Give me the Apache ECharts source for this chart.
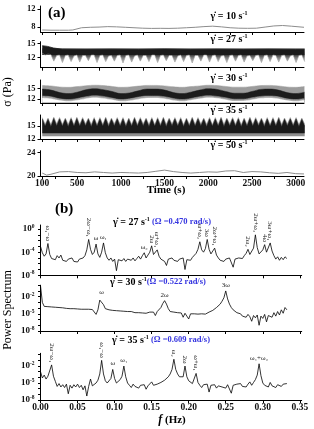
<!DOCTYPE html>
<html><head><meta charset="utf-8">
<script src="https://cdn.jsdelivr.net/npm/echarts@6.0.0/dist/echarts.min.js"></script>
<style>html,body{margin:0;padding:0;background:#fff}#c{width:314px;height:429px}</style>
</head><body><div id="c"></div>
<script>
// ================= DATA =================
// Panel (a): time axis
const timeLabels = [100, 500, 1000, 1500, 2000, 2500, 3000];
const timeTicks = [100, 250, 500, 750, 1000, 1250, 1500, 1750, 2000, 2250, 2500, 2750, 3000];

// shear rate 10 s^-1 (smooth record)
const t10 = [100,200,300,400,450,550,650,750,850,950,1050,1150,1250,1350,1450,1550,1650,1750,1850,1950,2050,2150,2250,2350,2450,2550,2650,2750,2850,2950,3095];
const s10 = [7.35,7.3,7.3,7.3,7.35,7.85,7.95,8.0,8.1,8.05,7.95,7.85,7.75,7.7,7.72,7.7,7.75,7.85,7.95,8.1,8.2,8.05,7.85,7.75,7.72,7.75,8.0,8.25,8.35,8.2,7.95];

// shear rate 50 s^-1 (smooth record)
const t50 = [100,150,200,300,400,500,600,700,800,900,1000,1100,1200,1300,1400,1500,1600,1700,1800,1900,2000,2100,2200,2300,2400,2500,2600,2700,2800,2900,3000,3095];
const s50 = [20.5,20.15,20.3,20.7,20.75,20.6,20.55,20.7,20.6,20.5,20.6,20.55,20.5,20.6,20.8,21.0,20.75,20.6,20.5,20.6,20.7,20.65,20.85,20.9,20.6,20.75,20.7,20.55,20.45,20.6,20.4,20.35];

// dense records are read as envelopes sampled every tStep seconds from tStart
const tStart = 100, tStep = 33;
// shear rate 27: lower envelope (downward spikes) and upper edge of dark core
const low27 = [12.9,12.5,12.7,12.6,
 11.2,12.4,12.5, 10.9,12.4,12.5, 11.1,12.3,12.5, 11.0,12.4,12.4, 11.3,12.5,12.5,
 10.9,12.4,12.5, 11.1,12.3,12.4, 11.2,12.4,12.5, 10.8,12.4,12.5, 11.0,12.3,12.5,
 11.2,12.4,12.4, 11.1,12.5,12.5, 10.9,12.4,12.5, 11.3,12.4,12.4, 11.0,12.3,12.5,
 11.1,12.4,12.5, 10.8,12.4,12.4, 11.2,12.5,12.5, 11.0,12.4,12.5, 11.1,12.3,12.4,
 10.9,12.4,12.5, 11.2,12.4,12.5, 11.0,12.3,12.4, 11.3,12.4,12.5, 10.9,12.4,12.5,
 11.1,12.5,12.4, 11.0,12.4,12.5, 11.2,12.3,12.5, 10.9,12.4,12.5, 11.1];
const upper27 = 13.95, coreBase27 = 12.5;
const core27T = [100,160,230,330,600,900,1200,1500,1800,2100,2400,2700,3000,3100];
const core27 = [14.5,14.35,14.0,13.75,13.7,13.75,13.7,13.8,13.7,13.75,13.7,13.75,13.7,13.7];

// shear rate 30: band edges every 100 s
const t30 = [100,200,300,400,500,600,700,800,900,1000,1100,1200,1300,1400,1500,1600,1700,1800,1900,2000,2100,2200,2300,2400,2500,2600,2700,2800,2900,3000,3100];
const gLow30 = [12.35,12.1,11.6,11.4,11.7,12.15,12.4,12.2,11.8,11.4,11.55,12.0,12.3,12.35,12.1,11.65,11.4,11.7,12.1,12.4,12.25,11.85,11.45,11.5,11.85,12.25,12.35,12.1,11.6,11.4,11.7];
const gUp30 = [15.95,15.8,15.5,15.4,15.6,15.85,16.0,15.9,15.65,15.4,15.5,15.75,15.95,15.95,15.8,15.55,15.4,15.6,15.8,16.0,15.9,15.65,15.45,15.45,15.65,15.9,15.95,15.8,15.5,15.4,15.6];
const cLow30 = [12.9,12.7,12.1,11.9,12.2,12.7,13.0,12.8,12.3,11.9,12.1,12.6,12.9,12.9,12.7,12.2,11.9,12.2,12.7,13.0,12.8,12.4,12.0,12.0,12.4,12.8,12.9,12.7,12.1,11.9,12.2];
const cUp30 = [14.9,14.6,13.9,13.6,14.0,14.7,15.0,14.7,14.2,13.6,13.8,14.4,14.9,14.9,14.6,13.9,13.6,14.0,14.6,15.0,14.8,14.2,13.7,13.7,14.2,14.8,14.9,14.6,13.9,13.6,14.0];
const fillBase30 = 11.05;

// shear rate 35: upper envelope (tips / valleys) of grey band and of dark core
const up35 = [16.9,15.4,16.8,15.3,17.0,15.5,16.9,15.4,16.8,15.4,16.9,15.3,17.0,15.4,16.9,15.5,16.8,15.4,16.9,15.3,
 16.9,15.4,17.0,15.4,16.8,15.5,16.9,15.4,16.9,15.3,16.8,15.4,17.0,15.4,16.9,15.5,16.8,15.4,16.9,15.3,
 16.9,15.4,17.0,15.4,16.8,15.5,16.9,15.4,16.9,15.3,16.8,15.4,17.0,15.4,16.9,15.5,16.8,15.4,16.9,15.3,
 16.9,15.4,17.0,15.4,16.8,15.5,16.9,15.4,16.9,15.3,16.8,15.4,17.0,15.4,16.9,15.5,16.8,15.4,16.9,15.3,
 16.9,15.4,17.0,15.4,16.8,15.5,16.9,15.4,16.9,15.3,16.8,15.4];
const core35 = [16.6,14.9,16.5,14.8,16.7,15.0,16.6,14.9,16.5,14.8,16.6,14.9,16.7,14.9,16.6,15.0,16.5,14.8,16.6,14.9,
 16.6,14.9,16.7,14.8,16.5,15.0,16.6,14.9,16.6,14.8,16.5,14.9,16.7,14.9,16.6,15.0,16.5,14.8,16.6,14.9,
 16.6,14.9,16.7,14.8,16.5,15.0,16.6,14.9,16.6,14.8,16.5,14.9,16.7,14.9,16.6,15.0,16.5,14.8,16.6,14.9,
 16.6,14.9,16.7,14.8,16.5,15.0,16.6,14.9,16.6,14.8,16.5,14.9,16.7,14.9,16.6,15.0,16.5,14.8,16.6,14.9,
 16.6,14.9,16.7,14.8,16.5,15.0,16.6,14.9,16.6,14.8,16.5,14.9];
const base35Grey = 12.65, base35Core = 13.3;

// Panel (b): power spectra, log10 values every fStep Hz from 0
const fLabels = [0, 0.05, 0.1, 0.15, 0.2, 0.25, 0.3, 0.35];
const fStep = 0.0025;
const ps27 = [-3.0,-4.1,-4.7,-4.3,-2.5,-4.4,-5.1,-4.8,-5.3,-4.6,-5.0,-4.5,-5.4,-5.1,-5.6,-5.2,-5.5,-5.0,-5.6,-5.3,
 -5.7,-5.2,-5.5,-5.0,-4.6,-3.6,-1.8,-3.5,-4.4,-4.0,-2.6,-4.3,-4.9,-4.0,-2.4,-4.1,-5.0,-5.4,-5.0,-5.6,
 -5.2,-7.2,-5.3,-5.0,-5.5,-5.1,-5.6,-5.2,-4.9,-5.4,-5.0,-5.5,-5.1,-4.7,-5.2,-4.6,-4.1,-5.0,-4.5,-4.0,
 -2.9,-4.4,-4.6,-3.6,-4.7,-5.2,-5.0,-5.6,-6.3,-5.2,-5.5,-5.0,-5.4,-5.1,-5.6,-5.2,-5.5,-5.0,-7.0,-5.3,
 -5.0,-5.4,-4.9,-4.6,-4.2,-3.5,-2.2,-3.6,-4.0,-3.4,-1.8,-3.5,-4.3,-4.1,-3.3,-4.5,-5.0,-5.4,-5.1,-5.6,
 -5.2,-5.5,-5.0,-5.3,-6.6,-5.2,-5.5,-5.0,-4.7,-5.1,-4.6,-4.2,-3.5,-4.4,-4.2,-3.3,-1.0,-3.2,-4.3,-4.0,
 -3.6,-2.7,-4.0,-3.9,-2.4,-3.8,-4.6,-5.2,-4.8,-5.4,-4.9,-5.3,-4.8,-5.1];
const ps30 = [-0.1,-3.0,-3.7,-3.8,-3.75,-3.85,-3.8,-3.9,-3.85,-3.95,-3.9,-4.0,-3.95,-4.0,-4.05,-3.95,-4.1,-4.0,-4.1,-4.05,
 -4.15,-4.1,-4.2,-4.15,-4.2,-4.3,-4.2,-4.3,-4.25,-4.4,-5.1,-4.3,-2.6,-2.3,-3.4,-4.1,-4.4,-4.3,-4.5,-4.4,
 -4.55,-4.45,-4.6,-4.5,-4.65,-4.55,-4.7,-4.6,-4.75,-4.6,-4.7,-4.8,-4.65,-4.8,-4.7,-4.85,-4.75,-4.9,-4.8,-4.7,
 -4.85,-4.7,-5.3,-4.6,-4.3,-3.9,-3.2,-2.7,-3.3,-4.1,-4.6,-4.8,-4.7,-4.9,-4.8,-5.0,-4.85,-5.6,-4.9,-5.1,
 -5.9,-5.0,-5.15,-5.0,-5.2,-5.05,-5.1,-5.0,-4.9,-5.05,-4.85,-4.7,-4.6,-4.4,-4.1,-3.9,-3.6,-3.3,-2.8,-2.2,
 -1.0,-2.4,-3.3,-3.9,-4.3,-4.6,-4.8,-5.1,-5.0,-5.4,-5.2,-5.6,-5.1,-5.5,-6.3,-5.3,-5.7,-5.2,-7.0,-5.4,
 -5.8,-5.1,-6.4,-5.3,-5.0,-5.6,-4.8,-5.4,-4.6,-5.2,-4.3,-4.9,-3.9,-4.3];
const ps35 = [-3.0,-4.1,-3.6,-4.3,-3.8,-3.5,-1.8,-3.8,-4.7,-5.6,-5.1,-5.7,-5.3,-5.8,-5.2,-6.9,-5.4,-5.9,-5.3,-5.7,
 -5.2,-5.8,-5.4,-6.2,-5.5,-7.3,-5.6,-4.3,-5.5,-5.2,-5.0,-4.5,-3.4,-1.0,-3.4,-4.6,-5.0,-4.7,-4.2,-2.6,
 -4.2,-5.0,-4.9,-4.4,-3.8,-2.0,-3.9,-5.0,-5.4,-5.8,-5.2,-5.6,-5.3,-5.9,-5.4,-5.7,-5.3,-6.1,-5.5,-5.2,
 -4.8,-5.4,-5.6,-5.2,-5.1,-4.9,-4.7,-4.5,-4.3,-3.9,-3.4,-2.6,-0.8,-2.6,-3.4,-3.9,-4.2,-3.9,-2.0,-3.9,
 -4.6,-4.9,-5.1,-4.8,-3.3,-4.9,-5.4,-5.8,-5.3,-5.6,-5.2,-6.6,-5.4,-5.7,-5.3,-5.9,-5.5,-5.2,-5.7,-5.4,
 -5.9,-5.3,-5.6,-6.8,-5.4,-5.7,-5.2,-5.5,-5.1,-5.6,-5.3,-5.7,-5.2,-4.8,-5.4,-4.9,-4.4,-3.6,-1.6,-3.7,
 -5.0,-5.4,-5.1,-5.7,-4.9,-5.5,-5.2,-5.8,-5.3,-5.0,-5.6,-5.2,-5.5,-5.1];

// peak annotations: [index into spectrum, text, rotated]
const ann27 = [[4,'ω₁−ω',1],[26,'2ω−ω₁',1],[30,'ω',0],[34,'ω₁',0],[56,'ω₂',0],[60,'2ω',1],[63,'ω+ω₁',1],
 [86,'ω+ω₂',1],[90,'3ω',1],[94,'2ω+ω₁',1],[112,'2ω₂',1],[116,'2ω+ω₂',1],[121,'4ω',1],[124,'3ω+ω₁',1]];
const ann30 = [[33,'ω',0],[67,'2ω',0],[100,'3ω',0]];
const ann35 = [[6,'2ω−ω₁',1],[33,'ω₁−ω',1],[39,'ω',0],[45,'ω₁',0],[72,'ω₂',1],[78,'2ω',1],[84,'ω+ω₁',1],[118,'ω₁+ω₂',0]];

const rateA = ['10', '27', '30', '35', '50'];
const rateB = ['27', '30', '35'];
const omegaB = [' (Ω =0.470 rad/s)', '(Ω =0.522 rad/s)', ' (Ω =0.609 rad/s)'];

// ================= CHART =================
const SERIF = '"Liberation Serif","DejaVu Serif",serif';
const chart = echarts.init(document.getElementById('c'), null, {renderer: 'canvas'});

const gridsA = [[6, 26], [41.7, 26], [80, 23], [115, 24], [150.7, 25.3]];
const gridsB = [[225, 50.3], [285.2, 45.8], [353.3, 46.7]];
const yRangeA = [[6.9, 12.7, [8, 12]], [9.8, 15.35, [12, 15]], [10.9, 17.5, [12, 15]], [12, 17.5, [12, 15]], [20, 24.3, [20, 24]]];
const yRangeB = [[-8, 0.7, [-8, -4, 0]], [-8, 0, [-8, -5, -2]], [-8, 0.25, [-8, -5, -2]]];

const grid = [], xAxis = [], yAxis = [];
const axisLineStyle = {color: '#000', width: 1};
gridsA.forEach((g, i) => {
  grid.push({left: 40.5, width: 263.5, top: g[0], height: g[1], containLabel: false});
  xAxis.push({type: 'value', gridIndex: i, min: 80, max: 3095,
    axisLine: {show: true, onZero: false, lineStyle: axisLineStyle},
    axisTick: {show: true, customValues: timeTicks, length: 3, lineStyle: axisLineStyle},
    axisLabel: {show: i === 4, customValues: timeLabels, formatter: v => String(Math.round(v)),
      fontFamily: SERIF, fontWeight: 'bold', fontSize: 9.5, color: '#111', margin: 3},
    splitLine: {show: false}});
  const r = yRangeA[i];
  yAxis.push({type: 'value', gridIndex: i, min: r[0], max: r[1],
    axisLine: {show: true, onZero: false, lineStyle: axisLineStyle},
    axisTick: {show: true, customValues: r[2], length: 3, lineStyle: axisLineStyle},
    axisLabel: {customValues: r[2], formatter: v => String(v), fontFamily: SERIF, fontWeight: 'bold', fontSize: 8.5, color: '#111', margin: 5},
    splitLine: {show: false}});
});
const decades = [-8, -7, -6, -5, -4, -3, -2, -1, 0];
gridsB.forEach((g, j) => {
  const i = j + 5;
  grid.push({left: 40.5, width: 261.2, top: g[0], height: g[1], containLabel: false});
  xAxis.push({type: 'value', gridIndex: i, min: 0, max: 0.3525,
    axisLine: {show: true, onZero: false, lineStyle: axisLineStyle},
    axisTick: {show: true, customValues: fLabels, length: 3, lineStyle: axisLineStyle},
    axisLabel: {show: j === 2, customValues: fLabels, formatter: v => v.toFixed(2), fontFamily: SERIF, fontWeight: 'bold', fontSize: 9.5, color: '#111', margin: 3},
    splitLine: {show: false}});
  const r = yRangeB[j];
  yAxis.push({type: 'value', gridIndex: i, min: r[0], max: r[1],
    axisLine: {show: true, onZero: false, lineStyle: axisLineStyle},
    axisTick: {show: true, customValues: decades.filter(d => d <= r[1]), length: 2.5, lineStyle: axisLineStyle},
    axisLabel: {customValues: r[2], margin: 6,
      formatter: v => '{b|10}{s|' + (v === 0 ? '0' : String(v)) + '}',
      rich: {
        b: {fontFamily: SERIF, fontWeight: 'bold', fontSize: 9, color: '#111', lineHeight: 11},
        s: {fontFamily: SERIF, fontWeight: 'bold', fontSize: 5.5, color: '#111', lineHeight: 6, verticalAlign: 'top'}
      }},
    splitLine: {show: false}});
});

const pairs = (ts, vs) => vs.map((v, k) => [ts[k], v]);
const dense = vs => vs.map((v, k) => [tStart + k * tStep, v]);
const line = (i, data, extra) => Object.assign({type: 'line', xAxisIndex: i, yAxisIndex: i, data, symbol: 'none', silent: true, animation: false}, extra);

const series = [];
// (a) 10 s^-1
series.push(line(0, pairs(t10, s10), {lineStyle: {color: '#8c8c8c', width: 1}}));
// (a) 27 s^-1
series.push(line(1, dense(low27), {lineStyle: {color: '#9a9a9a', width: 0.6},
  areaStyle: {origin: upper27, opacity: 1, color: {type: 'linear', x: 0, y: 0, x2: 0, y2: 1, colorStops: [
    {offset: 0, color: '#7a7a7a'}, {offset: 0.45, color: '#3a3a3a'}, {offset: 0.62, color: '#777'}, {offset: 1, color: '#cfcfcf'}]}}}));
series.push(line(1, pairs(core27T, core27), {lineStyle: {color: '#1a1a1a', width: 0.8},
  areaStyle: {origin: coreBase27, opacity: 1, color: '#1a1a1a'}}));
// (a) 30 s^-1 : layered fills (grey top, dark core, grey lower edge, white below band)
[[gUp30, '#9c9c9c'], [cUp30, '#1c1c1c'], [cLow30, '#9c9c9c'], [gLow30, '#ffffff']].forEach(b => {
  series.push(line(2, pairs(t30, b[0]), {smooth: 0.4, lineStyle: {color: b[1], width: 0.5},
    areaStyle: {origin: fillBase30, opacity: 1, color: b[1]}}));
});
// (a) 35 s^-1
series.push(line(3, dense(up35), {lineStyle: {color: '#8e8e8e', width: 0.5},
  areaStyle: {origin: base35Grey, opacity: 1, color: '#8e8e8e'}}));
series.push(line(3, dense(core35), {lineStyle: {color: '#1a1a1a', width: 0.5},
  areaStyle: {origin: base35Core, opacity: 1, color: '#1a1a1a'}}));
// (a) 50 s^-1
series.push(line(4, pairs(t50, s50), {lineStyle: {color: '#8c8c8c', width: 1}}));

// (b) spectra
function marks(ann, ps) {
  return {symbol: 'circle', symbolSize: 1, itemStyle: {color: 'rgba(0,0,0,0)'}, silent: true, animation: false,
    label: {show: true, position: 'top', distance: 2, formatter: '{b}', fontFamily: SERIF, fontSize: 7, color: '#222'},
    data: ann.map(a => ({name: a[1], coord: [a[0] * fStep, ps[a[0]]],
      label: a[2] ? {rotate: -90, align: 'right', verticalAlign: 'middle'} : {}}))};
}
[[ps27, ann27], [ps30, ann30], [ps35, ann35]].forEach((p, j) => {
  series.push(line(5 + j, p[0].map((v, k) => [k * fStep, v]), {lineStyle: {color: '#000', width: 0.8}, markPoint: marks(p[1], p[0])}));
});

// texts
const richG = {
  g: {fontFamily: SERIF, fontWeight: 'bold', fontSize: 10, fill: '#000', lineHeight: 12},
  s: {fontFamily: SERIF, fontWeight: 'bold', fontSize: 6, fill: '#000', lineHeight: 7, verticalAlign: 'top'},
  o: {fontFamily: SERIF, fontWeight: 'bold', fontSize: 8.5, fill: '#3535e0', lineHeight: 12}
};
const gText = (rate, omega) => '{g|\u03B3\u0307 = ' + rate + ' s}{s|-1}' + (omega ? '{o|' + omega + '}' : '');
const graphic = [];
graphic.push({type: 'text', x: 48, y: 13, style: {text: '(a)', fontFamily: SERIF, fontWeight: 'bold', fontSize: 15, fill: '#000', verticalAlign: 'middle'}});
graphic.push({type: 'text', x: 55, y: 209, style: {text: '(b)', fontFamily: SERIF, fontWeight: 'bold', fontSize: 15, fill: '#000', verticalAlign: 'middle'}});
const gyA = [16.5, 39, 78, 110, 145];
rateA.forEach((r, i) => graphic.push({type: 'text', x: 229, y: gyA[i], z: 100, style: {text: gText(r), rich: richG, align: 'center', verticalAlign: 'middle'}}));
const gB = [[113, 222], [110, 282], [112, 340]];
rateB.forEach((r, j) => graphic.push({type: 'text', x: gB[j][0], y: gB[j][1], style: {text: gText(r, omegaB[j]), rich: richG, align: 'left', verticalAlign: 'middle'}}));
graphic.push({type: 'text', x: 8, y: 92, rotation: Math.PI / 2, style: {text: 'σ (Pa)', fontFamily: SERIF, fontSize: 12, fill: '#000', align: 'center', verticalAlign: 'middle'}});
graphic.push({type: 'text', x: 8, y: 310, rotation: Math.PI / 2, style: {text: 'Power Spectrum', fontFamily: SERIF, fontSize: 12, fill: '#000', align: 'center', verticalAlign: 'middle'}});
graphic.push({type: 'text', x: 166, y: 190, style: {text: 'Time (s)', fontFamily: SERIF, fontWeight: 'bold', fontSize: 11, fill: '#000', align: 'center', verticalAlign: 'middle'}});
graphic.push({type: 'text', x: 172, y: 420, style: {text: '{i|f}{n| (Hz)}', align: 'center', verticalAlign: 'middle',
  rich: {i: {fontFamily: SERIF, fontStyle: 'italic', fontWeight: 'bold', fontSize: 12, fill: '#000'},
         n: {fontFamily: SERIF, fontWeight: 'bold', fontSize: 11, fill: '#000'}}}});

chart.setOption({animation: false, grid, xAxis, yAxis, series, graphic});
</script></body></html>
